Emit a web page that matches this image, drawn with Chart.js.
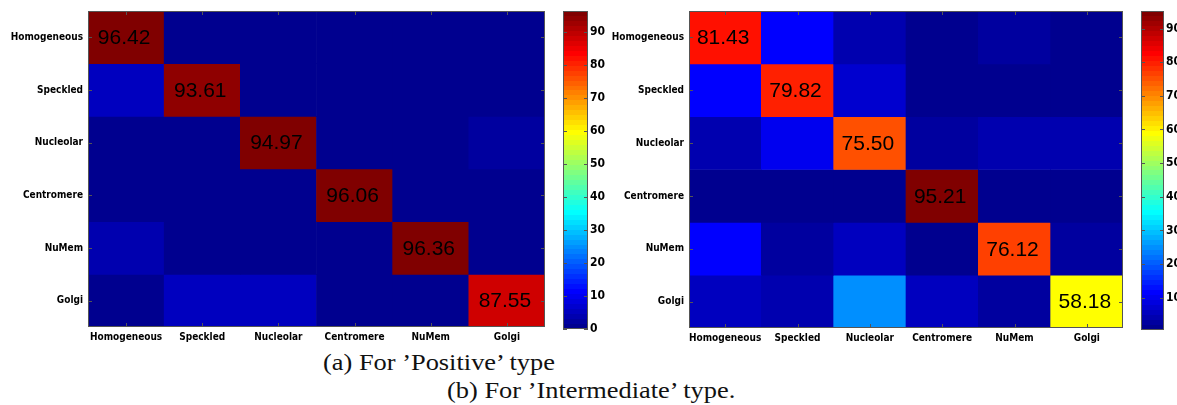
<!DOCTYPE html>
<html>
<head>
<meta charset="utf-8">
<script src="https://cdn.jsdelivr.net/npm/chart.js@4.4.1/dist/chart.umd.min.js"></script>
<style>
  html, body { margin: 0; padding: 0; background: #fff; }
  #wrap { position: relative; width: 1177px; height: 405px; overflow: hidden; }
  #wrap canvas { position: absolute; top: 0; }
  .cap { position: absolute; font-family: "Liberation Serif", "Times New Roman", serif; font-size: 24px;
         color: #111; white-space: nowrap; line-height: 1; transform: scaleX(1.1); transform-origin: 0 0; }
</style>
</head>
<body>
<div id="wrap">
  <canvas id="heatA" width="550" height="345" style="left:0"></canvas>
  <canvas id="cbarA" width="50" height="345" style="left:555px"></canvas>
  <canvas id="heatB" width="540" height="345" style="left:590px"></canvas>
  <canvas id="cbarB" width="44" height="345" style="left:1133px"></canvas>
  <div class="cap" style="left:323px;top:350px">(a) For ’Positive’ type</div>
  <div class="cap" style="left:447px;top:378px">(b) For ’Intermediate’ type.</div>
</div>
<script>
/* Ma trận nhầm lẫn (%) — hàng = lớp thật, cột = lớp dự đoán */
var CLASSES = ['Homogeneous', 'Speckled', 'Nucleolar', 'Centromere', 'NuMem', 'Golgi'];

// (a) Positive
var POS_HOMOGENEOUS = [96.42, 0.9, 0.6, 0.5, 1.2, 0.38];
var POS_SPECKLED    = [5.0, 93.61, 0.4, 0.3, 0.4, 0.29];
var POS_NUCLEOLAR   = [0.5, 0.5, 94.97, 1.5, 1.0, 1.53];
var POS_CENTROMERE  = [0.8, 1.2, 1.2, 96.06, 0.4, 0.34];
var POS_NUMEM       = [3.04, 0.2, 0.2, 0.2, 96.36, 0.0];
var POS_GOLGI       = [1.0, 4.6, 5.2, 0.8, 0.85, 87.55];

// (b) Intermediate
var INT_HOMOGENEOUS = [81.43, 11.5, 3.5, 0.8, 2.2, 0.57];
var INT_SPECKLED    = [11.0, 79.82, 7.18, 0.6, 0.8, 0.6];
var INT_NUCLEOLAR   = [4.5, 10.0, 75.50, 2.5, 3.5, 4.0];
var INT_CENTROMERE  = [1.2, 1.0, 1.3, 95.21, 0.9, 0.39];
var INT_NUMEM       = [12.0, 3.0, 6.0, 1.0, 76.12, 1.88];
var INT_GOLGI       = [5.0, 4.5, 25.0, 5.0, 2.32, 58.18];

var CBAR_TICKS = [0, 10, 20, 30, 40, 50, 60, 70, 80, 90];

var POSITIVE = [POS_HOMOGENEOUS, POS_SPECKLED, POS_NUCLEOLAR, POS_CENTROMERE, POS_NUMEM, POS_GOLGI];
var INTERMEDIATE = [INT_HOMOGENEOUS, INT_SPECKLED, INT_NUCLEOLAR, INT_CENTROMERE, INT_NUMEM, INT_GOLGI];

var AXIS_FONT = { family: '"DejaVu Sans Condensed", "DejaVu Sans", sans-serif', size: 10, weight: 'bold' };
var CBAR_FONT = { family: '"Liberation Sans Narrow", "DejaVu Sans Condensed", sans-serif', size: 12, weight: 'bold' };

// jet(64) của MATLAB, i = 1..64
function jetIdx(i) {
  function c(x) { return Math.round(255 * Math.max(0, Math.min(1, x))); }
  var r = Math.min((i - 24) / 16, (72 - i) / 16);
  var g = Math.min((i - 8) / 16, (56 - i) / 16);
  var b = Math.min((i + 8) / 16, (40 - i) / 16);
  return 'rgb(' + c(r) + ',' + c(g) + ',' + c(b) + ')';
}
function jet(t) {
  var i = Math.floor(Math.max(0, Math.min(1, t)) * 64) + 1;
  return jetIdx(Math.min(64, i));
}
function range(rows) {
  var all = [].concat.apply([], rows);
  return { lo: Math.min.apply(null, all), hi: Math.max.apply(null, all) };
}

// khung + vạch chia hướng vào trong kiểu MATLAB
var boxPlugin = {
  id: 'box',
  afterDraw: function (chart) {
    var a = chart.chartArea, c = chart.ctx;
    c.save();
    c.strokeStyle = '#555'; c.lineWidth = 1;
    c.beginPath();
    ['x', 'y'].forEach(function (k) {
      var s = chart.scales[k];
      if (!s || s.options.display === false) return;
      s.ticks.forEach(function (t, i) {
        var p = Math.round(s.getPixelForTick(i)) + 0.5;
        if (k === 'x') { c.moveTo(p, a.bottom); c.lineTo(p, a.bottom - 4); c.moveTo(p, a.top); c.lineTo(p, a.top + 4); }
        else { c.moveTo(a.left, p); c.lineTo(a.left + 4, p); c.moveTo(a.right, p); c.lineTo(a.right - 4, p); }
      });
    });
    c.stroke();
    c.strokeRect(Math.round(a.left) + 0.5, Math.round(a.top) + 0.5, Math.round(a.right - a.left) - 1, Math.round(a.bottom - a.top) - 1);
    c.restore();
  }
};

// số trên đường chéo
var diagPlugin = {
  id: 'diag',
  afterDatasetsDraw: function (chart) {
    var c = chart.ctx;
    c.save();
    c.fillStyle = '#000';
    c.font = '21px "Liberation Sans", Arial, sans-serif';
    c.textAlign = 'center'; c.textBaseline = 'middle';
    chart.data.datasets.forEach(function (ds, i) {
      var bar = chart.getDatasetMeta(i).data[i];
      if (!bar) return;
      var p = bar.getProps(['x', 'y', 'base'], true);
      c.fillText(ds.values[i].toFixed(2), p.x - 2, (p.y + p.base) / 2 + 1);
    });
    c.restore();
  }
};

function heatmap(id, rows, yWidth, xHeight, padRight) {
  var r = range(rows);
  var datasets = rows.map(function (row, i) {
    return {
      label: CLASSES[i],
      values: row,
      data: row.map(function () { return 1; }),
      backgroundColor: row.map(function (v) { return jet((v - r.lo) / (r.hi - r.lo)); }),
      borderWidth: 0,
      barPercentage: 1,
      categoryPercentage: 1
    };
  });
  return new Chart(document.getElementById(id), {
    type: 'bar',
    data: { labels: CLASSES, datasets: datasets },
    plugins: [diagPlugin, boxPlugin],
    options: {
      responsive: false, animation: false,
      layout: { padding: { top: 11, right: padRight, left: 0, bottom: 0 } },
      plugins: { legend: { display: false }, tooltip: { enabled: false } },
      scales: {
        x: {
          stacked: true,
          grid: { display: false, drawTicks: false }, border: { display: false },
          ticks: { font: AXIS_FONT, color: '#000', padding: 4, maxRotation: 0, autoSkip: false },
          afterFit: function (s) { s.height = xHeight; }
        },
        y: {
          type: 'linear', stacked: true, reverse: true, min: 0, max: CLASSES.length,
          grid: { display: false, drawTicks: false }, border: { display: false },
          afterBuildTicks: function (s) { s.ticks = CLASSES.map(function (c, i) { return { value: i + 0.5 }; }); },
          ticks: { font: AXIS_FONT, color: '#000', padding: 5, autoSkip: false,
            callback: function (v) { return CLASSES[Math.floor(v)]; } },
          afterFit: function (s) { s.width = yWidth; }
        }
      }
    }
  });
}

function colorbar(id, rows, axisWidth, padBottom) {
  var r = range(rows);
  return new Chart(document.getElementById(id), {
    type: 'bar',
    data: {
      labels: [''],
      datasets: [{
        data: [[r.lo, r.hi]],
        borderWidth: 0, barPercentage: 1, categoryPercentage: 1,
        backgroundColor: function (ctx) {
          var ch = ctx.chart;
          if (!ch.chartArea) return null;
          var y = ch.scales.y;
          var g = ch.ctx.createLinearGradient(0, y.getPixelForValue(r.lo), 0, y.getPixelForValue(r.hi));
          for (var k = 1; k <= 64; k++) {
            g.addColorStop((k - 1) / 64, jetIdx(k));
            g.addColorStop(k / 64, jetIdx(k));
          }
          return g;
        }
      }]
    },
    plugins: [boxPlugin],
    options: {
      responsive: false, animation: false,
      layout: { padding: { top: 11, left: 8, right: 0, bottom: padBottom } },
      plugins: { legend: { display: false }, tooltip: { enabled: false } },
      scales: {
        x: { display: false },
        y: {
          position: 'right', min: r.lo, max: r.hi,
          grid: { display: false, drawTicks: false }, border: { display: false },
          afterBuildTicks: function (s) {
            s.ticks = CBAR_TICKS.filter(function (v) { return v >= r.lo && v <= r.hi; }).map(function (v) { return { value: v }; });
          },
          ticks: { font: CBAR_FONT, color: '#000', padding: 2, autoSkip: false },
          afterFit: function (s) { s.width = axisWidth; }
        }
      }
    }
  });
}

heatmap('heatA', POSITIVE, 88, 18, 5);
colorbar('cbarA', POSITIVE, 17, 16);
heatmap('heatB', INTERMEDIATE, 99, 17, 7);
colorbar('cbarB', INTERMEDIATE, 13, 15);
</script>
</body>
</html>
